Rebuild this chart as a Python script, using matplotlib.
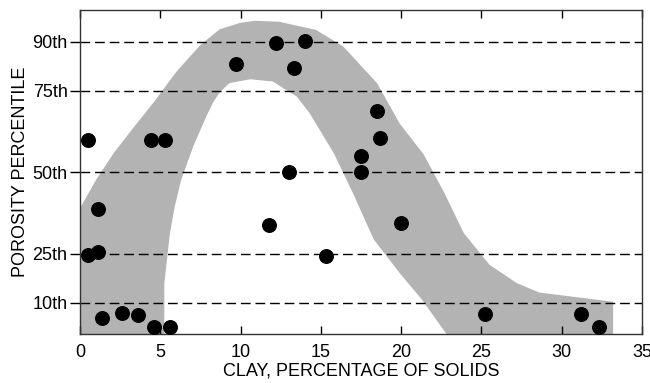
import matplotlib
matplotlib.use('Agg')
import matplotlib.pyplot as plt

plt.rcParams['font.family'] = ['Liberation Sans', 'DejaVu Sans']

# Measured samples: clay content (% of solids) vs porosity percentile
clay = [0.5, 4.4, 5.3, 1.1, 0.5, 1.1, 1.35, 2.6, 3.6, 4.6, 5.6,
        9.7, 12.2, 14.0, 13.3, 18.5, 18.7, 17.5, 17.5, 13.0, 11.8, 20.0, 15.3,
        25.2, 31.2, 32.3]
porosity = [60, 60, 60, 38.7, 24.8, 25.6, 5.4, 6.9, 6.2, 2.5, 2.5,
            83.2, 89.7, 90.3, 81.9, 68.9, 60.5, 55, 50, 50, 33.9, 34.5, 24.5,
            6.7, 6.6, 2.5]

# Envelope band (outer and inner edges)
band_upper_x = [0, 1.0, 2.1, 3.3, 4.6, 6.0, 7.5, 8.7, 10.0, 10.9, 12.4, 14.7,
                16.4, 18.5, 19.9, 21.4, 22.7, 23.9, 25.5, 27.2, 28.6, 33.0, 33.2]
band_upper_y = [39, 47.7, 55.9, 63.5, 71.5, 80.8, 89, 93.8, 95.8, 96.4, 96.1, 93.6,
                88.5, 77.3, 65, 55.5, 43.6, 31.4, 21.7, 16.1, 13.2, 10.5, 10.3]
band_lower_x = [5.25, 5.25, 5.6, 5.9, 6.3, 7.05, 7.5, 7.9, 8.3, 8.7, 9.3, 10.6,
                12.0, 13.5, 14.3, 15.8, 17.0, 18.3, 19.9, 21.3, 22.4, 22.9]
band_lower_y = [0, 16, 31.4, 39.5, 47.7, 57.9, 63, 67.5, 71.5, 74.5, 77.3, 78.5,
                77.8, 73.2, 68.1, 55.9, 43.6, 29.4, 19.2, 11, 3.4, 0]

pct_ticks = [10, 25, 50, 75, 90]
pct_labels = ['10th', '25th', '50th', '75th', '90th']
x_ticks = [0, 5, 10, 15, 20, 25, 30, 35]

fig = plt.figure(figsize=(6.5, 3.83), dpi=100)
ax = fig.add_axes([0.1231, 0.1279, 0.8646, 0.846])

# Build closed band polygon
poly_x = [0] + band_upper_x + [band_upper_x[-1]] + band_lower_x[::-1] + [0]
poly_y = [0] + band_upper_y + [0] + band_lower_y[::-1] + [0]
ax.fill(poly_x, poly_y, color='#b3b3b3', lw=0, zorder=1)

for p in pct_ticks:
    ax.axhline(p, color='black', lw=1.0, dashes=(7, 3.5), zorder=2)

ax.scatter(clay, porosity, s=95, color='black', zorder=3, clip_on=False)

ax.set_xlim(0, 35)
ax.set_ylim(0.5, 99.7)
ax.set_xticks(x_ticks)
ax.set_yticks(pct_ticks)
ax.set_yticklabels(pct_labels)
ax.tick_params(axis='x', direction='in', length=6, width=1, top=True,
               labelsize=13, pad=7)
ax.tick_params(axis='y', direction='out', length=7, width=1, labelsize=13, pad=2)

for s in ax.spines.values():
    s.set_linewidth(1)
    s.set_color('#333333')

ax.set_xlabel('CLAY, PERCENTAGE OF SOLIDS', fontsize=13, labelpad=1)
ax.set_ylabel('POROSITY PERCENTILE', fontsize=13, labelpad=2)

fig.savefig('out.png', dpi=100)
